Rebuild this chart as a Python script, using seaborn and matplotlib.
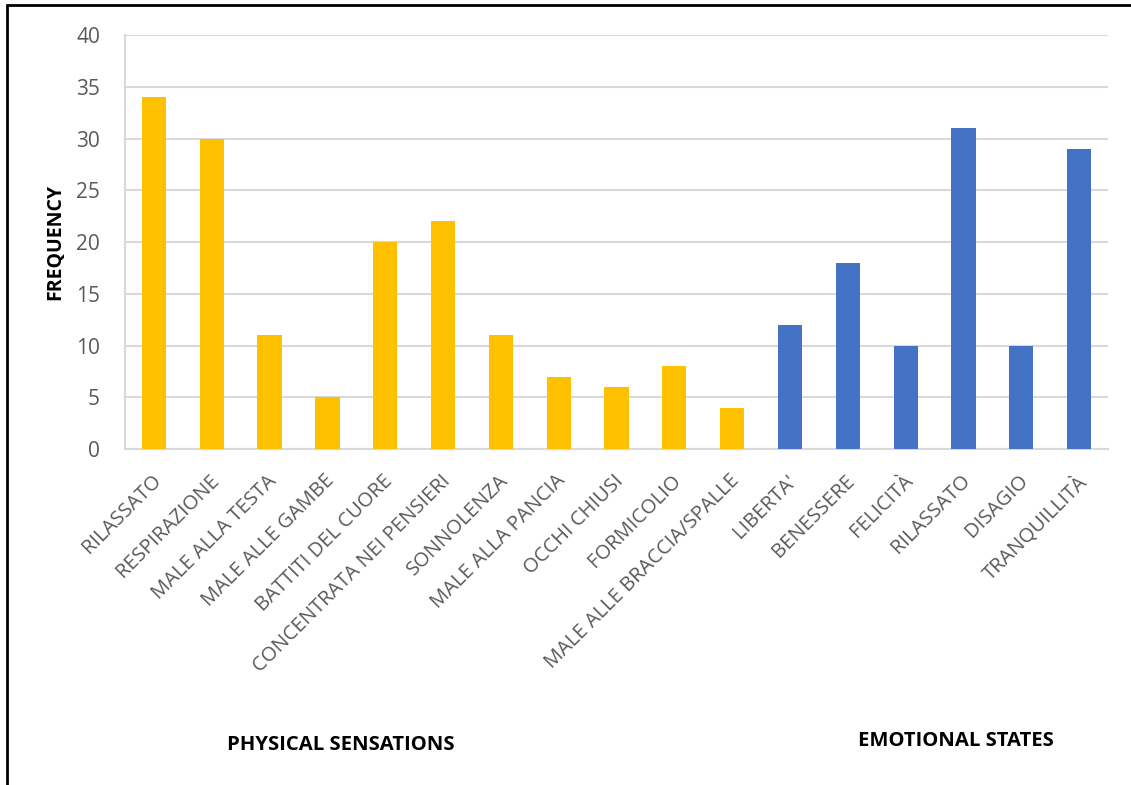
import matplotlib
matplotlib.use("Agg")
import matplotlib.pyplot as plt
import matplotlib.transforms as mtransforms
from matplotlib.lines import Line2D
import seaborn as sns
import pandas as pd

physical_labels = ["RILASSATO", "RESPIRAZIONE", "MALE ALLA TESTA", "MALE ALLE GAMBE",
                   "BATTITI DEL CUORE", "CONCENTRATA NEI PENSIERI", "SONNOLENZA",
                   "MALE ALLA PANCIA", "OCCHI CHIUSI", "FORMICOLIO", "MALE ALLE BRACCIA/SPALLE"]
physical_values = [34, 30, 11, 5, 20, 22, 11, 7, 6, 8, 4]
emotional_labels = ["LIBERTA'", "BENESSERE", "FELICITÀ", "RILASSATO", "DISAGIO", "TRANQUILLITÀ"]
emotional_values = [12, 18, 10, 31, 10, 29]
group_names = ["PHYSICAL SENSATIONS", "EMOTIONAL STATES"]
y_ticks = [0, 5, 10, 15, 20, 25, 30, 35, 40]

labels = physical_labels + emotional_labels
values = physical_values + emotional_values
groups = [group_names[0]] * len(physical_labels) + [group_names[1]] * len(emotional_labels)
df = pd.DataFrame({"pos": list(range(len(labels))), "value": values, "group": groups})

sns.set_theme(style="white")
plt.rcParams['font.family'] = ['Open Sans', 'DejaVu Sans']

fig = plt.figure(figsize=(11.31, 7.85), dpi=100)
ax = fig.add_axes([0.1105, 0.428, 0.8692, 0.5274])

sns.barplot(data=df, x="pos", y="value", hue="group", dodge=False, width=0.42,
            palette={group_names[0]: "#FFC000", group_names[1]: "#4472C4"},
            saturation=1, linewidth=0, legend=False, ax=ax, zorder=3)

ax.set_xlim(-0.5, len(labels) - 0.5)
ax.set_ylim(0, 40)
ax.set_yticks(y_ticks)
ax.yaxis.grid(True, color="#D9D9D9", linewidth=1.5, zorder=0)
ax.set_axisbelow(True)
for s in ["top", "right"]:
    ax.spines[s].set_visible(False)
ax.spines["left"].set_color("#D9D9D9")
ax.spines["bottom"].set_color("#D9D9D9")
ax.spines["left"].set_linewidth(1.5)
ax.spines["bottom"].set_linewidth(1.5)
ax.tick_params(axis="y", length=8, width=1.5, color="#D9D9D9", labelcolor="#595959",
               labelsize=15, pad=10)
ax.tick_params(axis="x", length=0)
ax.set_xlabel("")
ax.set_ylabel("FREQUENCY", fontsize=14, fontweight="bold", color="black", labelpad=8)

ax.set_xticks(range(len(labels)))
ax.set_xticklabels(labels, rotation=45, ha="right", va="top", rotation_mode="anchor",
                   fontsize=14.5, color="#595959")
offset = mtransforms.ScaledTranslation(-0.03, -0.17, fig.dpi_scale_trans)
for lab in ax.get_xticklabels():
    lab.set_transform(lab.get_transform() + offset)

fig.text(341 / 1131, 1 - 745 / 785, group_names[0], ha="center", va="center",
         fontsize=14.6, fontweight="bold", color="black")
fig.text(956 / 1131, 1 - 741 / 785, group_names[1], ha="center", va="center",
         fontsize=14.6, fontweight="bold", color="black")

# outer border (left and top)
fig.add_artist(Line2D([7 / 1131, 7 / 1131], [0, 1 - 5 / 785], transform=fig.transFigure,
                      color="black", linewidth=2))
fig.add_artist(Line2D([7 / 1131, 1], [1 - 5 / 785, 1 - 5 / 785], transform=fig.transFigure,
                      color="black", linewidth=2))

fig.savefig("out.png", dpi=100, facecolor="white")
